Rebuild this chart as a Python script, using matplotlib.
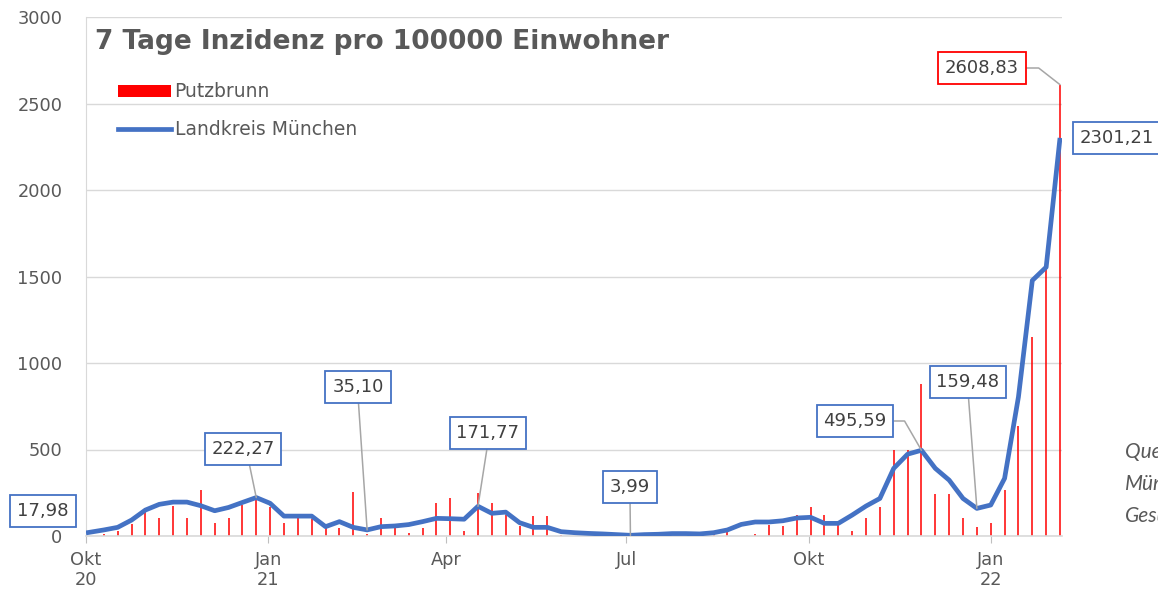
import matplotlib
matplotlib.use("Agg")
import matplotlib.pyplot as plt
from matplotlib.patches import Patch
from matplotlib.lines import Line2D
import pandas as pd

# ---------------- data ----------------
first_date = "2020-10-01"
weekly_start = "2020-10-10"
weekly_end = "2022-02-05"

landkreis = [17.98, 35, 50, 92, 150, 183, 196, 196, 175, 146,
             165, 194, 222.27, 189, 115, 115, 115, 54, 83, 50,
             35.10, 54, 58, 66, 83, 102, 100, 97, 171.77, 131,
             138, 77, 50, 50, 25, 19, 15, 12, 8, 3.99,
             8, 10, 14, 14, 12, 19, 35, 67, 81, 81,
             88, 104, 108, 73, 73, 121, 173, 217, 391, 473,
             495.59, 391, 323, 217, 159.48, 179, 333, 804, 1477, 1554,
             2301.21]

putzbrunn = [0, 10, 29, 69, 160, 102, 175, 102, 265, 73,
             102, 179, 217, 166, 73, 102, 100, 44, 44, 252,
             10, 102, 45, 15, 44, 192, 221, 29, 250, 190,
             121, 56, 117, 117, 5, 0, 0, 3, 0, 0,
             0, 0, 2, 0, 0, 15, 25, 0, 10, 63,
             58, 119, 166, 119, 63, 29, 106, 166, 500, 500,
             877, 240, 240, 106, 54, 73, 265, 635, 1150, 1560,
             2608.83]

tick_dates = ["2020-10-01", "2021-01-01", "2021-04-01", "2021-07-01", "2021-10-01", "2022-01-01"]
tick_labels = ["Okt\n20", "Jan\n21", "Apr", "Jul", "Okt", "Jan\n22"]
y_ticks = [0, 500, 1000, 1500, 2000, 2500, 3000]

title = "7 Tage Inzidenz pro 100000 Einwohner"
series_names = ["Putzbrunn", "Landkreis München"]
source_text = "Quelle: Landratsamt\nMünchen\nGesundheitsamt"

dates = pd.to_datetime([first_date]).append(pd.date_range(weekly_start, weekly_end, freq="7D"))

# ---------------- style ----------------
plt.rcParams['font.family'] = ['DejaVu Sans']
BLUE = "#4472C4"
RED = "#FF0000"
TXT = "#595959"
GRID = "#D9D9D9"

W, H = 1158, 589
fig = plt.figure(figsize=(W / 100, H / 100), dpi=100)
ax = fig.add_axes([86 / W, 1 - 536 / H, (1062 - 86) / W, (536 - 17) / H])

ax.vlines(dates, 0, putzbrunn, color=RED, lw=1.1, zorder=2)
ax.plot(dates, landkreis, color=BLUE, lw=3.4, zorder=3, solid_joinstyle='round',
        solid_capstyle='butt')

ax.set_ylim(0, 3000)
ax.set_xlim(pd.Timestamp("2020-10-01"), pd.Timestamp("2022-02-06"))
ax.set_yticks(y_ticks)
ax.set_yticklabels([str(v) for v in y_ticks])
ax.set_xticks(pd.to_datetime(tick_dates))
ax.set_xticklabels(tick_labels, linespacing=1.1)

ax.grid(axis='y', color=GRID, lw=1, zorder=0)
ax.set_axisbelow(True)
for s in ['top', 'right']:
    ax.spines[s].set_visible(False)
ax.spines['left'].set_color(GRID)
ax.spines['bottom'].set_color(GRID)
ax.spines['bottom'].set_linewidth(1.2)
ax.tick_params(axis='y', length=0, pad=17, labelsize=12.8, labelcolor=TXT)
ax.tick_params(axis='x', length=5, color="#BFBFBF", pad=6, labelsize=12.8, labelcolor=TXT)

# title
fig.text(95 / W, 1 - 42 / H, title, fontsize=19, fontweight='bold', color=TXT,
         ha='left', va='center')

# legend
handles = [Patch(facecolor=RED, edgecolor='none'),
           Line2D([0], [0], color=BLUE, lw=3.4)]
fig.legend(handles, series_names, loc='upper left',
           bbox_to_anchor=(109 / W, 1 - 73 / H), frameon=False,
           fontsize=13.5, labelcolor=TXT, handlelength=2.8, handleheight=0.65,
           handletextpad=0.2, labelspacing=1.0, borderpad=0)

# source text (cut off at right edge as in reference)
fig.text(1125 / W, 1 - 484 / H, source_text, fontsize=15, style='italic',
         color=TXT, ha='left', va='center', linespacing=1.75,
         fontfamily=['Lato', 'DejaVu Sans'])

# annotations
def label(idx, series, text, tx, ty, edge=BLUE, relpos=(0.5, 0.0), conn="arc3", leader=True):
    val = series[idx]
    bbox = dict(boxstyle="square,pad=0.38", fc="white", ec=edge, lw=1.3)
    arrow = dict(arrowstyle='-', color="#A6A6A6", lw=1.1, relpos=relpos,
                 connectionstyle=conn, shrinkA=0, shrinkB=0) if leader else None
    ax.annotate(text, xy=(dates[idx], val), xycoords='data',
                xytext=(tx, H - ty), textcoords='figure pixels',
                ha='center', va='center', fontsize=13, color="#404040",
                bbox=bbox, arrowprops=arrow, zorder=5, annotation_clip=False)

label(0, landkreis, "17,98", 43, 511, leader=False)
label(12, landkreis, "222,27", 243, 449, relpos=(0.58, 0.0))
label(20, landkreis, "35,10", 358, 387)
label(28, landkreis, "171,77", 488, 433)
label(39, landkreis, "3,99", 630, 487)
label(60, landkreis, "495,59", 855, 421, relpos=(1.0, 0.5),
      conn="angle,angleA=0,angleB=120,rad=0")
label(64, landkreis, "159,48", 968, 382)
label(70, putzbrunn, "2608,83", 982, 68, edge=RED, relpos=(1.0, 0.5),
      conn="angle,angleA=0,angleB=142,rad=0")
label(70, landkreis, "2301,21", 1117, 138, leader=False)

fig.savefig("out.png", dpi=100, facecolor='white')
